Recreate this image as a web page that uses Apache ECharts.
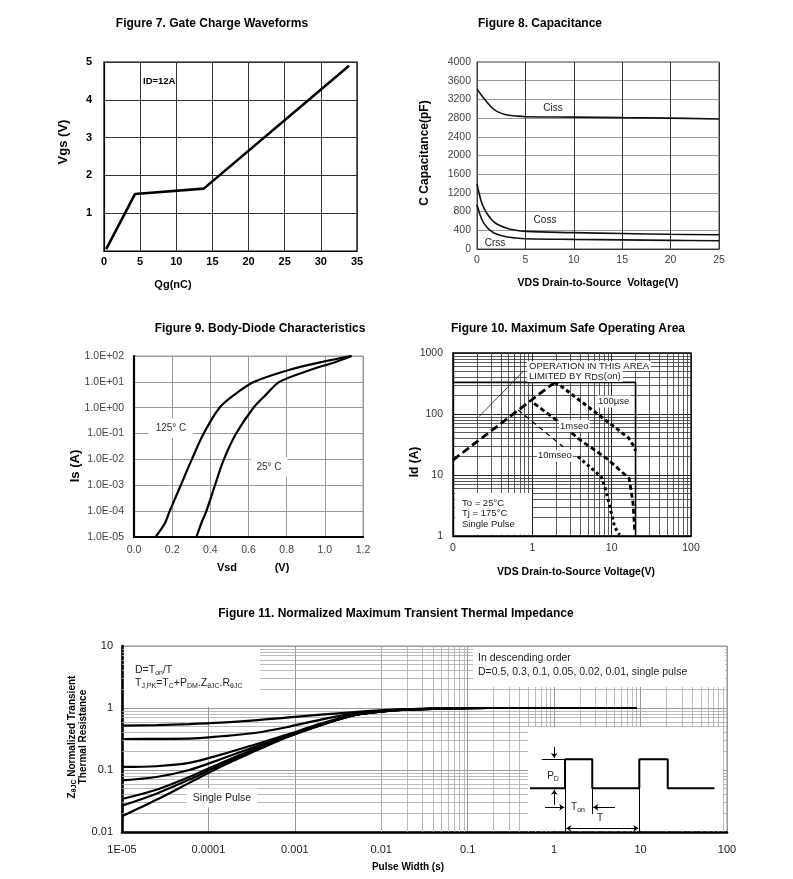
<!DOCTYPE html>
<html><head><meta charset="utf-8">
<script src="https://cdn.jsdelivr.net/npm/echarts/dist/echarts.min.js"></script>
<style>html,body{margin:0;padding:0;background:#fff}#c{width:793px;height:879px}</style>
</head><body><div id="c"></div>
<script>
const FONT = '"Liberation Sans", Arial, Helvetica, sans-serif';

// ---------- Figure 7. Gate Charge ----------
const fig7Qg  = [0.3, 4.3, 13.8, 33.9];
const fig7Vgs = [0.05, 1.51, 1.65, 4.9];
const fig7XTicks = ['0','5','10','15','20','25','30','35'];
const fig7YTicks = ['','1','2','3','4','5'];

// ---------- Figure 8. Capacitance ----------
const fig8Vds  = [0, 0.5, 1, 1.5, 2, 3, 4, 5, 10, 15, 20, 25];
const fig8Ciss = [3420, 3280, 3150, 3030, 2950, 2870, 2845, 2830, 2820, 2810, 2800, 2780];
const fig8Coss = [1390, 980, 770, 630, 540, 450, 400, 376, 350, 330, 315, 305];
const fig8Crss = [946, 630, 470, 378, 320, 263, 235, 220, 205, 195, 185, 177];
const fig8XTicks = ['0','5','10','15','20','25'];
const fig8YTicks = ['0','400','800','1200','1600','2000','2400','2800','3200','3600','4000'];

// ---------- Figure 9. Body-Diode ----------
const fig9V125 = [0.113, 0.161, 0.187, 0.245, 0.303, 0.365, 0.448, 0.527, 0.63, 0.82, 0.99, 1.14];
const fig9I125 = [1e-5, 3.3e-5, 1e-4, 1e-3, 1e-2, 1e-1, 1, 3.2, 10, 30, 60, 100];
const fig9V25  = [0.327, 0.352, 0.379, 0.424, 0.471, 0.535, 0.626, 0.692, 0.762, 0.93, 1.06, 1.14];
const fig9I25  = [1e-5, 3.3e-5, 1e-4, 1e-3, 1e-2, 1e-1, 1, 3.2, 10, 30, 60, 100];
const fig9XTicks = ['0.0','0.2','0.4','0.6','0.8','1.0','1.2'];
const fig9YTicks = ['1.0E-05','1.0E-04','1.0E-03','1.0E-02','1.0E-01','1.0E+00','1.0E+01','1.0E+02'];

// ---------- Figure 10. Safe Operating Area ----------
const fig10RdsV = [0.1, 1.9];
const fig10RdsI = [17.6, 328];
const fig10LimV = [0.1, 20, 20];
const fig10LimI = [330, 330, 1];
const fig10UsV  = [1.9, 2.2, 4.0, 7.0, 11.5, 16.5, 19.5, 20];
const fig10UsI  = [328, 300, 165, 95, 58, 40, 28, 25];
const fig10MsV  = [1.05, 2.0, 4.0, 8.6, 16.6, 18.6, 19.5];
const fig10MsI  = [150, 80, 37.5, 18.8, 8.8, 3.4, 1.2];
const fig10M10aV = [0.66, 2.44];
const fig10M10aI = [117, 29];
const fig10M10bV = [3.77, 7.4, 8.2, 9.5, 10.9, 12.6];
const fig10M10bI = [20, 9.3, 6.4, 3.0, 1.4, 1.05];
const fig10PtrV = [0.213, 0.764];
const fig10PtrI = [90.6, 498];
const fig10XTicks = ['0','1','10','100'];
const fig10YTicks = ['1','10','100','1000'];

// ---------- Figure 11. Transient Thermal Impedance ----------
const fig11T    = [1e-5, 2.5e-5, 6e-5, 1.4e-4, 3.4e-4, 8e-4, 2e-3, 5e-3, 1.2e-2, 3e-2, 0.1, 0.3, 1, 9];
const fig11D050 = [0.52, 0.53, 0.55, 0.58, 0.63, 0.70, 0.78, 0.86, 0.93, 0.97, 1.0, 1.0, 1.0, 1.0];
const fig11D030 = [0.316, 0.318, 0.32, 0.35, 0.395, 0.49, 0.65, 0.82, 0.92, 0.97, 1.0, 1.0, 1.0, 1.0];
const fig11D010 = [0.112, 0.115, 0.13, 0.177, 0.256, 0.37, 0.56, 0.78, 0.91, 0.96, 0.995, 1.0, 1.0, 1.0];
const fig11D005 = [0.068, 0.077, 0.10, 0.15, 0.235, 0.357, 0.54, 0.77, 0.9, 0.96, 0.995, 1.0, 1.0, 1.0];
const fig11D002 = [0.034, 0.048, 0.077, 0.13, 0.218, 0.35, 0.535, 0.77, 0.9, 0.96, 0.995, 1.0, 1.0, 1.0];
const fig11D001 = [0.0266, 0.0415, 0.07, 0.122, 0.207, 0.34, 0.53, 0.77, 0.9, 0.96, 0.995, 1.0, 1.0, 1.0];
const fig11Single = [0.0179, 0.033, 0.062, 0.114, 0.2, 0.336, 0.53, 0.77, 0.9, 0.96, 0.995, 1.0, 1.0, 1.0];
const fig11XTicks = ['1E-05','0.0001','0.001','0.01','0.1','1','10','100'];
const fig11YTicks = ['0.01','0.1','1','10'];

// inset waveform (inset units 0..100)
const insetPulseX = [1.5, 19.4, 19.4, 33.3, 33.3, 57.3, 57.3, 71.8, 71.8, 95.6];
const insetPulseY = [41.6, 41.6, 69.2, 69.2, 41.6, 41.6, 69.2, 69.2, 41.6, 41.6];
const insetGuides = [[[7.5,69.2],[19.4,69.2]], [[19.4,41.6],[19.4,0]], [[33.3,41.6],[33.3,17]], [[57.3,41.6],[57.3,0]]];
const insetArrows = [[[13.9,81],[13.9,70.5]], [[13.9,26],[13.9,40.3]], [[9.2,23.5],[19,23.5]], [[44.9,23.5],[33.8,23.5]]];
const insetDouble = [[[20,3.5],[56.8,3.5]]];

const zip = (xs, ys) => xs.map((x, i) => [x, ys[i]]);
function logMinor(decades, key) {
  const out = [];
  decades.forEach(d => { for (let k = 2; k <= 9; k++) out.push({ [key]: d * k }); });
  return out;
}
function gridSeries(idx, p, data, color) {
  return { type: 'line', xAxisIndex: idx, yAxisIndex: idx, data: [p], symbol: 'none', showSymbol: false,
    lineStyle: { opacity: 0 }, z: 1, silent: true,
    markLine: { z: 1, silent: true, symbol: 'none', animation: false, label: { show: false },
      emphasis: { disabled: true }, lineStyle: { color: color, width: 0.8, type: 'solid' }, data: data } };
}
function curve(idx, data, opts) {
  return Object.assign({ type: 'line', xAxisIndex: idx, yAxisIndex: idx, data: data, symbol: 'none',
    showSymbol: false, z: 5, silent: true, animation: false,
    lineStyle: { color: '#000', width: 2.2 } }, opts || {});
}
const tick = (arr, offset) => v => { const i = Math.round(Math.log10(v)) + offset; return arr[i] !== undefined ? arr[i] : ''; };

const lab = (size, color, bold, margin) => ({ fontSize: size, color: color, fontFamily: FONT,
  fontWeight: bold ? 'bold' : 'normal', margin: margin });

const gridBase = { containLabel: false, outerBoundsMode: 'none', show: true, backgroundColor: 'transparent' };
const grids = [
  Object.assign({ left: 104, top: 62, width: 253, height: 189, borderColor: '#000', borderWidth: 1.2 }, gridBase),
  Object.assign({ left: 477, top: 62, width: 242, height: 187, borderColor: '#444', borderWidth: 1 }, gridBase),
  Object.assign({ left: 134, top: 356, width: 229, height: 181, borderColor: '#999', borderWidth: 1 }, gridBase),
  Object.assign({ left: 453, top: 353, width: 238, height: 183, borderColor: '#000', borderWidth: 1.4 }, gridBase),
  Object.assign({ left: 122, top: 646, width: 605, height: 186, borderColor: '#999', borderWidth: 1 }, gridBase),
  { left: 527, top: 727, width: 196, height: 105, show: false, containLabel: false, outerBoundsMode: 'none' }
];

const noTick = { show: false };
const xAxes = [
  { gridIndex: 0, type: 'value', min: 0, max: 35, interval: 5, axisTick: noTick,
    axisLine: { lineStyle: { color: '#000', width: 1.2 } },
    splitLine: { lineStyle: { color: '#333', width: 1 } },
    axisLabel: Object.assign(lab(11, '#000', true, 5), { formatter: v => fig7XTicks[Math.round(v / 5)] }) },
  { gridIndex: 1, type: 'value', min: 0, max: 25, interval: 5, axisTick: noTick,
    axisLine: { lineStyle: { color: '#333', width: 1.2 } },
    splitLine: { lineStyle: { color: '#333', width: 1 } },
    axisLabel: Object.assign(lab(10.5, '#444', false, 6), { formatter: v => fig8XTicks[Math.round(v / 5)] }) },
  { gridIndex: 2, type: 'value', min: 0, max: 1.2, interval: 0.2, axisTick: noTick,
    axisLine: { lineStyle: { color: '#000', width: 2.2 } },
    splitLine: { lineStyle: { color: '#999', width: 1 } },
    axisLabel: Object.assign(lab(10.5, '#444', false, 8), { formatter: v => fig9XTicks[Math.round(v / 0.2)] }) },
  { gridIndex: 3, type: 'log', logBase: 10, min: 0.1, max: 100, axisTick: noTick,
    axisLine: { lineStyle: { color: '#000', width: 1.4 } },
    splitLine: { lineStyle: { color: '#222', width: 1 } },
    axisLabel: Object.assign(lab(10.5, '#333', false, 7), { formatter: tick(fig10XTicks, 1) }) },
  { gridIndex: 4, type: 'log', logBase: 10, min: 1e-5, max: 100, axisTick: noTick,
    axisLine: { lineStyle: { color: '#000', width: 2.6 } },
    splitLine: { lineStyle: { color: '#999', width: 1 } },
    axisLabel: Object.assign(lab(11, '#222', false, 12), { formatter: tick(fig11XTicks, 5) }) },
  { gridIndex: 5, type: 'value', min: 0, max: 100, show: false, splitLine: { show: false } }
];
const yAxes = [
  { gridIndex: 0, type: 'value', min: 0, max: 5, interval: 1, axisTick: noTick,
    axisLine: { show: true, lineStyle: { color: '#000', width: 1.2 } },
    splitLine: { lineStyle: { color: '#333', width: 1 } },
    axisLabel: Object.assign(lab(11, '#000', true, 12), { formatter: v => fig7YTicks[Math.round(v)] }) },
  { gridIndex: 1, type: 'value', min: 0, max: 4000, interval: 400, axisTick: noTick,
    axisLine: { show: true, lineStyle: { color: '#444', width: 1 } },
    splitLine: { lineStyle: { color: '#999', width: 1 } },
    axisLabel: Object.assign(lab(10.5, '#444', false, 6), { formatter: v => fig8YTicks[Math.round(v / 400)] }) },
  { gridIndex: 2, type: 'log', logBase: 10, min: 1e-5, max: 100, axisTick: noTick,
    axisLine: { show: true, lineStyle: { color: '#000', width: 2.2 } },
    splitLine: { lineStyle: { color: '#999', width: 1 } },
    axisLabel: Object.assign(lab(10.5, '#444', false, 10), { formatter: tick(fig9YTicks, 5) }) },
  { gridIndex: 3, type: 'log', logBase: 10, min: 1, max: 1000, axisTick: noTick,
    axisLine: { show: true, lineStyle: { color: '#000', width: 1.4 } },
    splitLine: { lineStyle: { color: '#222', width: 1 } },
    axisLabel: Object.assign(lab(10.5, '#333', false, 10), { formatter: tick(fig10YTicks, 0) }) },
  { gridIndex: 4, type: 'log', logBase: 10, min: 0.01, max: 10, axisTick: noTick,
    axisLine: { show: true, lineStyle: { color: '#000', width: 2.6 } },
    splitLine: { lineStyle: { color: '#999', width: 1 } },
    axisLabel: Object.assign(lab(11, '#222', false, 9), { formatter: tick(fig11YTicks, 2) }) },
  { gridIndex: 5, type: 'value', min: 0, max: 100, show: false, splitLine: { show: false } }
];

const series = [
  // minor log gridlines
  gridSeries(3, [1, 10], logMinor([0.1, 1, 10], 'xAxis').concat(logMinor([1, 10, 100], 'yAxis')), '#333'),
  gridSeries(4, [1, 1], logMinor([1e-5, 1e-4, 1e-3, 1e-2, 0.1, 1, 10], 'xAxis').concat(logMinor([0.01, 0.1, 1], 'yAxis')), '#aaa'),
  // Fig 7
  curve(0, zip(fig7Qg, fig7Vgs), { lineStyle: { color: '#000', width: 2.6 } }),
  // Fig 8
  curve(1, zip(fig8Vds, fig8Ciss), { smooth: 0.4, lineStyle: { color: '#111', width: 1.6 } }),
  curve(1, zip(fig8Vds, fig8Coss), { smooth: 0.4, lineStyle: { color: '#111', width: 1.6 } }),
  curve(1, zip(fig8Vds, fig8Crss), { smooth: 0.4, lineStyle: { color: '#111', width: 1.6 } }),
  // Fig 9
  curve(2, zip(fig9V125, fig9I125), { smooth: 0.3, lineStyle: { color: '#000', width: 2.2 } }),
  curve(2, zip(fig9V25, fig9I25), { smooth: 0.3, lineStyle: { color: '#000', width: 2.2 } }),
  // Fig 10
  curve(3, zip(fig10LimV, fig10LimI), { lineStyle: { color: '#000', width: 1.6 } }),
  curve(3, zip(fig10PtrV, fig10PtrI), { lineStyle: { color: '#222', width: 0.8 } }),
  curve(3, zip(fig10RdsV, fig10RdsI), { lineStyle: { color: '#000', width: 2.8, type: [8, 4] } }),
  curve(3, zip(fig10UsV, fig10UsI), { lineStyle: { color: '#000', width: 3, type: [4, 3] } }),
  curve(3, zip(fig10MsV, fig10MsI), { lineStyle: { color: '#000', width: 2.8, type: [5, 3] } }),
  curve(3, zip(fig10M10aV, fig10M10aI), { lineStyle: { color: '#000', width: 1.2, type: [5, 4] } }),
  curve(3, zip(fig10M10bV, fig10M10bI), { lineStyle: { color: '#000', width: 3, type: [3, 3] } }),
  // Fig 11
  curve(4, zip(fig11T, fig11D050), { smooth: 0.3 }),
  curve(4, zip(fig11T, fig11D030), { smooth: 0.3 }),
  curve(4, zip(fig11T, fig11D010), { smooth: 0.3 }),
  curve(4, zip(fig11T, fig11D005), { smooth: 0.3 }),
  curve(4, zip(fig11T, fig11D002), { smooth: 0.3 }),
  curve(4, zip(fig11T, fig11D001), { smooth: 0.3 }),
  curve(4, zip(fig11T, fig11Single), { smooth: 0.3 }),
  // inset waveform
  curve(5, zip(insetPulseX, insetPulseY), { lineStyle: { color: '#000', width: 2 } }),
  { type: 'lines', coordinateSystem: 'cartesian2d', xAxisIndex: 5, yAxisIndex: 5, z: 5, silent: true, animation: false,
    symbol: 'none', lineStyle: { color: '#000', width: 1, opacity: 1 }, data: insetGuides.map(c => ({ coords: c })) },
  { type: 'lines', coordinateSystem: 'cartesian2d', xAxisIndex: 5, yAxisIndex: 5, z: 5, silent: true, animation: false,
    symbol: ['none', 'arrow'], symbolSize: 5, lineStyle: { color: '#000', width: 1, opacity: 1 }, data: insetArrows.map(c => ({ coords: c })) },
  { type: 'lines', coordinateSystem: 'cartesian2d', xAxisIndex: 5, yAxisIndex: 5, z: 5, silent: true, animation: false,
    symbol: ['arrow', 'arrow'], symbolSize: 5, lineStyle: { color: '#000', width: 1, opacity: 1 }, data: insetDouble.map(c => ({ coords: c })) }
];

const SUB = { s: { fontSize: 7, lineHeight: 8, verticalAlign: 'bottom', fontFamily: FONT, fill: '#222' } };
function txt(text, x, y, o) {
  o = o || {};
  return { type: 'text', z: o.z || 10, rotation: o.rot || 0, x: x, y: y,
    style: Object.assign({ text: text, x: 0, y: 0, align: o.align || 'center', verticalAlign: 'middle',
      fontSize: o.size || 10, fontWeight: o.bold ? 'bold' : 'normal', fontFamily: FONT, fill: o.color || '#000',
      lineHeight: o.lh }, o.extra || {}) };
}
function rect(x, y, w, h) { return { type: 'rect', z: 3, shape: { x: x, y: y, width: w, height: h }, style: { fill: '#fff' } }; }
const R = Math.PI / 2;
const graphic = [
  // white panels
  rect(124, 647, 136, 60), rect(473, 647, 252, 40), rect(528, 727, 195, 103.5), rect(455, 493, 77, 41.5),
  // titles
  txt('Figure 7. Gate Charge Waveforms', 212, 24, { size: 12, bold: true }),
  txt('Figure 8. Capacitance', 540, 24, { size: 12, bold: true }),
  txt('Figure 9. Body-Diode Characteristics', 260, 329, { size: 12, bold: true }),
  txt('Figure 10. Maximum Safe Operating Area', 568, 329, { size: 12, bold: true }),
  txt('Figure 11. Normalized Maximum Transient Thermal Impedance', 396, 614, { size: 12, bold: true }),
  // axis names
  txt('Vgs (V)', 63, 142, { size: 13, bold: true, rot: R }),
  txt('Qg(nC)', 173, 285, { size: 11, bold: true }),
  txt('C Capacitance(pF)', 425, 153, { size: 12, bold: true, rot: R }),
  txt('VDS Drain-to-Source  Voltage(V)', 598, 283, { size: 10.5, bold: true }),
  txt('Is (A)', 75, 466, { size: 13, bold: true, rot: R }),
  txt('Vsd', 227, 568, { size: 11, bold: true }),
  txt('(V)', 282, 568, { size: 11, bold: true }),
  txt('Id (A)', 415, 462, { size: 12, bold: true, rot: R }),
  txt('VDS Drain-to-Source Voltage(V)', 576, 572, { size: 10.5, bold: true }),
  txt('Z{s|θJC} Normalized Transient\nThermal Resistance', 78, 737, { size: 10, bold: true, rot: R, lh: 11,
    extra: { rich: { s: { fontSize: 7, lineHeight: 7, verticalAlign: 'bottom', fontWeight: 'bold', fontFamily: FONT } } } }),
  txt('Pulse Width (s)', 408, 867, { size: 10, bold: true }),
  // annotations
  txt('ID=12A', 143, 81, { size: 9.5, bold: true, align: 'left' }),
  txt('Ciss', 553, 108, { size: 10, color: '#222' }),
  txt('Coss', 545, 220, { size: 10, color: '#222' }),
  txt('Crss', 495, 243, { size: 10, color: '#222' }),
  txt('125° C', 171, 428, { size: 10, color: '#333', extra: { backgroundColor: '#fff', padding: [5, 7] } }),
  txt('25° C', 269, 467, { size: 10, color: '#333', extra: { backgroundColor: '#fff', padding: [5, 6] } }),
  txt('OPERATION IN THIS AREA', 527, 366, { size: 9.5, color: '#222', align: 'left', extra: { backgroundColor: '#fff', padding: [0, 2] } }),
  txt('LIMITED BY R{s|DS}(on)', 527, 376, { size: 9.5, color: '#222', align: 'left', lh: 12,
    extra: { backgroundColor: '#fff', padding: [0, 2], rich: { s: { fontSize: 9, lineHeight: 6, verticalAlign: 'bottom', fontFamily: FONT, fill: '#222' } } } }),
  txt('100µse', 597, 401.5, { size: 9.5, color: '#222', align: 'left', extra: { backgroundColor: '#fff', padding: [1, 1] } }),
  txt('1mseo', 559, 426, { size: 9.5, color: '#222', align: 'left', extra: { backgroundColor: '#fff', padding: [1, 1] } }),
  txt('10mseo', 537, 455.7, { size: 9.5, color: '#222', align: 'left', extra: { backgroundColor: '#fff', padding: [1, 1] } }),
  txt('To = 25°C\nTj = 175°C\nSingle Pulse', 462, 513.5, { size: 9.5, color: '#222', align: 'left', lh: 10.5 }),
  txt('D=T{s|on}/T', 135, 670, { size: 10.5, color: '#222', align: 'left', lh: 13, extra: { rich: SUB } }),
  txt('T{s|J,PK}=T{s|C}+P{s|DM}.Z{s|θJC}.R{s|θJC}', 135, 683, { size: 10.5, color: '#222', align: 'left', lh: 13, extra: { rich: SUB } }),
  txt('In descending order', 478, 658.5, { size: 10.5, color: '#222', align: 'left' }),
  txt('D=0.5, 0.3, 0.1, 0.05, 0.02, 0.01, single pulse', 478, 672.5, { size: 10.5, color: '#222', align: 'left' }),
  txt('Single Pulse', 222, 798, { size: 10.5, color: '#222', extra: { backgroundColor: '#fff', padding: [4, 6] } }),
  txt('P{s|D}', 553, 776, { size: 10, color: '#222', lh: 13, extra: { rich: SUB } }),
  txt('T{s|on}', 578, 807, { size: 10, color: '#222', lh: 13, extra: { rich: SUB } }),
  txt('T', 600, 818, { size: 10, color: '#222' })
];

const chart = echarts.init(document.getElementById('c'), null, { renderer: 'canvas' });
chart.setOption({
  animation: false,
  backgroundColor: '#fff',
  textStyle: { fontFamily: FONT },
  grid: grids, xAxis: xAxes, yAxis: yAxes, series: series, graphic: graphic
});
</script></body></html>
